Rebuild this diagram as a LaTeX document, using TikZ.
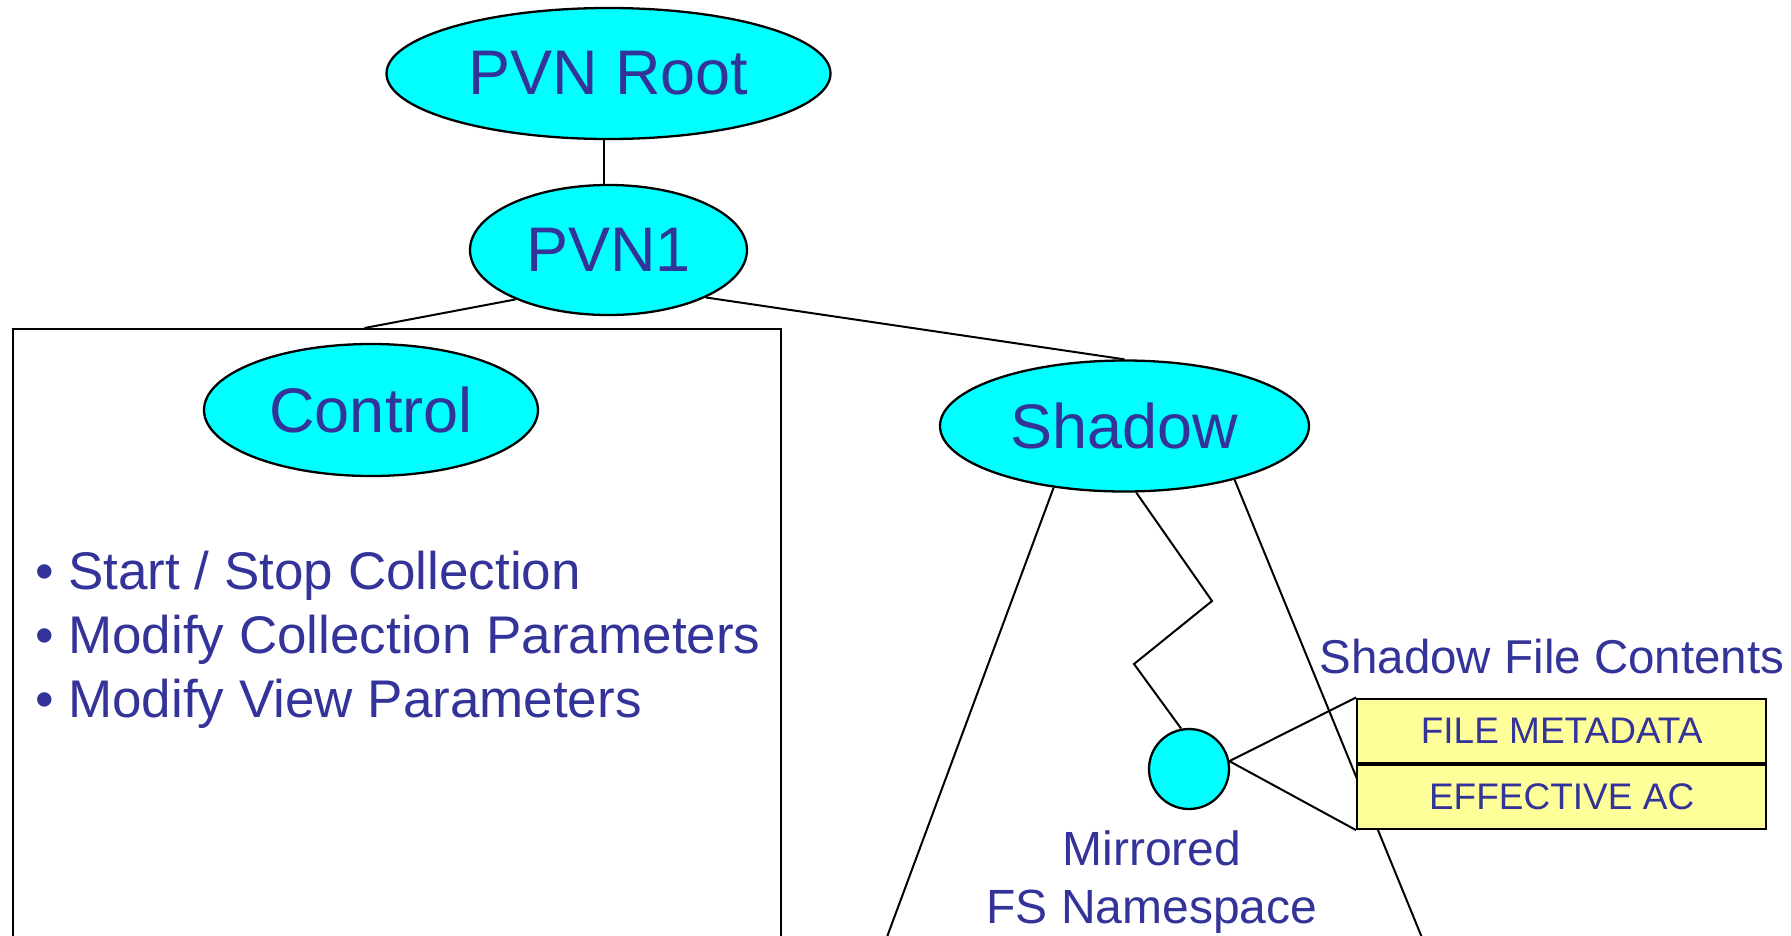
\documentclass[tikz,border=0pt]{standalone}
\usepackage{fontspec}
\setmainfont{Liberation Sans}
\usetikzlibrary{shapes.geometric}
\definecolor{txt}{HTML}{333399}
\definecolor{cy}{HTML}{00FFFF}
\definecolor{yel}{HTML}{FFFF99}
\begin{document}
\begin{tikzpicture}[x=1pt,y=-1pt,line width=2pt,
  bubble/.style={ellipse,draw,line width=2.3pt,fill=cy,inner sep=0pt,text=txt,font=\fontsize{63}{70}\selectfont},
  dotnode/.style={circle,draw,line width=2.3pt,fill=cy,inner sep=0pt,minimum size=80pt},
  bulletline/.style={anchor=base west,inner sep=0pt,text=txt,font=\fontsize{53}{60}\selectfont},
  label48/.style={anchor=base,inner sep=0pt,text=txt,font=\fontsize{48}{58}\selectfont},
  cell/.style={draw,line width=2.3pt,fill=yel,inner sep=0pt,minimum width=409pt,minimum height=64pt,anchor=north west,text=txt,font=\fontsize{37}{44}\selectfont},
  panel/.style={draw,inner sep=0pt,anchor=north west}]
\useasboundingbox (0,0) rectangle (1791,935);

% control panel
\node[panel,minimum width=768pt,minimum height=630pt] (ctlbox) at (11.5,328) {};
\coordinate (ctltop) at (364.5,328);

% ellipses
\node[bubble,minimum width=444pt,minimum height=131pt] (root) at (608.5,73.5) {PVN Root};
\node[bubble,minimum width=277pt,minimum height=130pt] (pvn1) at (608.5,250) {PVN1};
\node[bubble,minimum width=334pt,minimum height=132pt] (control) at (371,410) {Control};
\node[bubble,minimum width=369pt,minimum height=131pt] (shadow) at (1124.5,426) {Shadow};
\node[dotnode] (dot) at (1189,769) {};

% bullets
\node[bulletline] (b1) at (34,589) {• Start / Stop Collection};
\node[bulletline] (b2) at (34,653) {• Modify Collection Parameters};
\node[bulletline] (b3) at (34,717) {• Modify View Parameters};

% tree connectors
\draw ([xshift=-4.5pt]root.south) -- ([xshift=-4.5pt]pvn1.north);
\draw (pvn1.208.5) -- (ctltop);
\draw (pvn1.-26.4) -- (shadow.north);

% namespace triangle
\coordinate (lb) at (884,945);
\coordinate (rb) at (1425,945);
\coordinate (z1) at (1212,601);
\coordinate (z2) at (1134,664);
\draw (shadow.221) -- (lb);
\draw (shadow.-26.7) -- (rb);
\draw (shadow.-80) -- (z1) -- (z2) -- (dot.101);

% shadow file contents
\node[cell] (meta) at (1356,697.5) {FILE METADATA};
\node[cell] (eff) at (meta.south west) {EFFECTIVE AC};
\draw (meta.north west) -- (dot.11) -- (eff.south west);
\node[label48,font=\fontsize{47.5}{56}\selectfont] (sfc) at (1552,673) {Shadow File Contents};

% namespace label
\node[label48] (mir1) at (1152,865) {Mirrored};
\node[label48] (mir2) at (1152,923) {FS Namespace};
\end{tikzpicture}
\end{document}
